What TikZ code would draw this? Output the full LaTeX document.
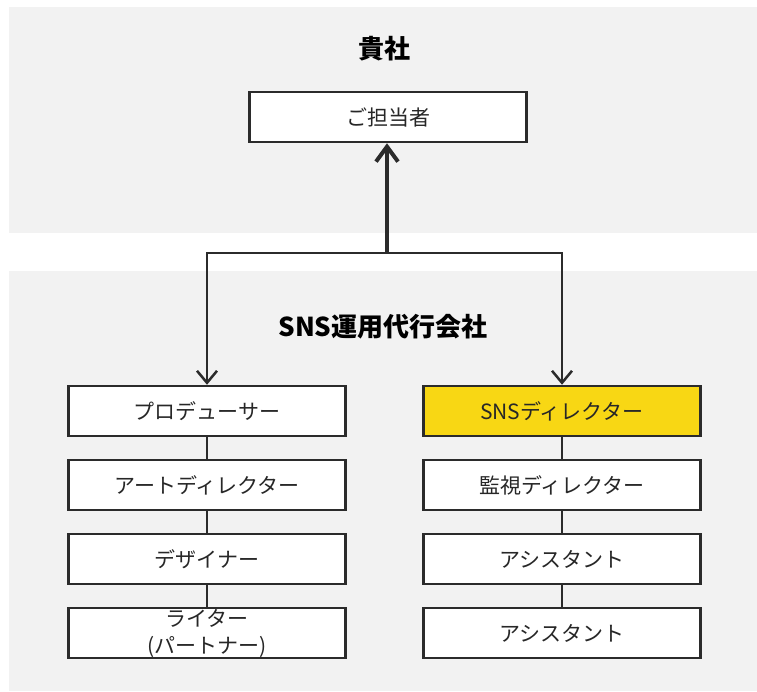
\documentclass[tikz,border=0pt]{standalone}
\usepackage{fontspec}
\setmainfont{Noto Sans CJK JP}
\usetikzlibrary{arrows.meta}
\definecolor{panel}{HTML}{F2F2F2}
\definecolor{ink}{HTML}{2B2B2B}
\definecolor{hl}{HTML}{F8D714}
\tikzset{
  box/.style={draw=ink, line width=2.5pt, fill=white, minimum width=277pt, minimum height=50pt,
    inner sep=0pt, align=center, text=ink!90!black, font=\fontsize{21}{27}\selectfont},
  title/.style={font=\fontsize{26}{30}\selectfont\bfseries, text=black},
  link/.style={draw=ink, line width=2.5pt},
  downarr/.style={draw=ink, line width=2.5pt, -{Straight Barb[length=12pt, width=20pt, line width=2.5pt]}},
  uparr/.style={draw=ink, line width=4.5pt, -{Straight Barb[length=15pt, width=22pt, line width=4pt]}}
}
\begin{document}
\begin{tikzpicture}[x=1pt, y=-1pt]
\useasboundingbox (0,0) rectangle (757,691);
\fill[panel] (9,7) rectangle (757,233);
\fill[panel] (9,271) rectangle (757,691);
\node[title] (t1) at (384,49) {貴社};
\node[title] (t2) at (383,327) {SNS運用代行会社};
\node[box] (top) at (388,117) {ご担当者};
\node[box] (L1) at (207,411) {プロデューサー};
\node[box] (L2) at (207,485) {アートディレクター};
\node[box] (L3) at (207,559) {デザイナー};
\node[box] (L4) at (207,633) {ライター\\(パートナー)};
\node[box, fill=hl] (R1) at (562,411) {SNSディレクター};
\node[box] (R2) at (562,485) {監視ディレクター};
\node[box] (R3) at (562,559) {アシスタント};
\node[box] (R4) at (562,633) {アシスタント};
\coordinate (jn) at (387,253);
\draw[downarr] (jn) -| (L1.north);
\draw[downarr] (jn) -| (R1.north);
\draw[uparr] (jn) -- (jn |- top.south);
\draw[link] (L1) -- (L2);
\draw[link] (L2) -- (L3);
\draw[link] (L3) -- (L4);
\draw[link] (R1) -- (R2);
\draw[link] (R2) -- (R3);
\draw[link] (R3) -- (R4);
\end{tikzpicture}
\end{document}
